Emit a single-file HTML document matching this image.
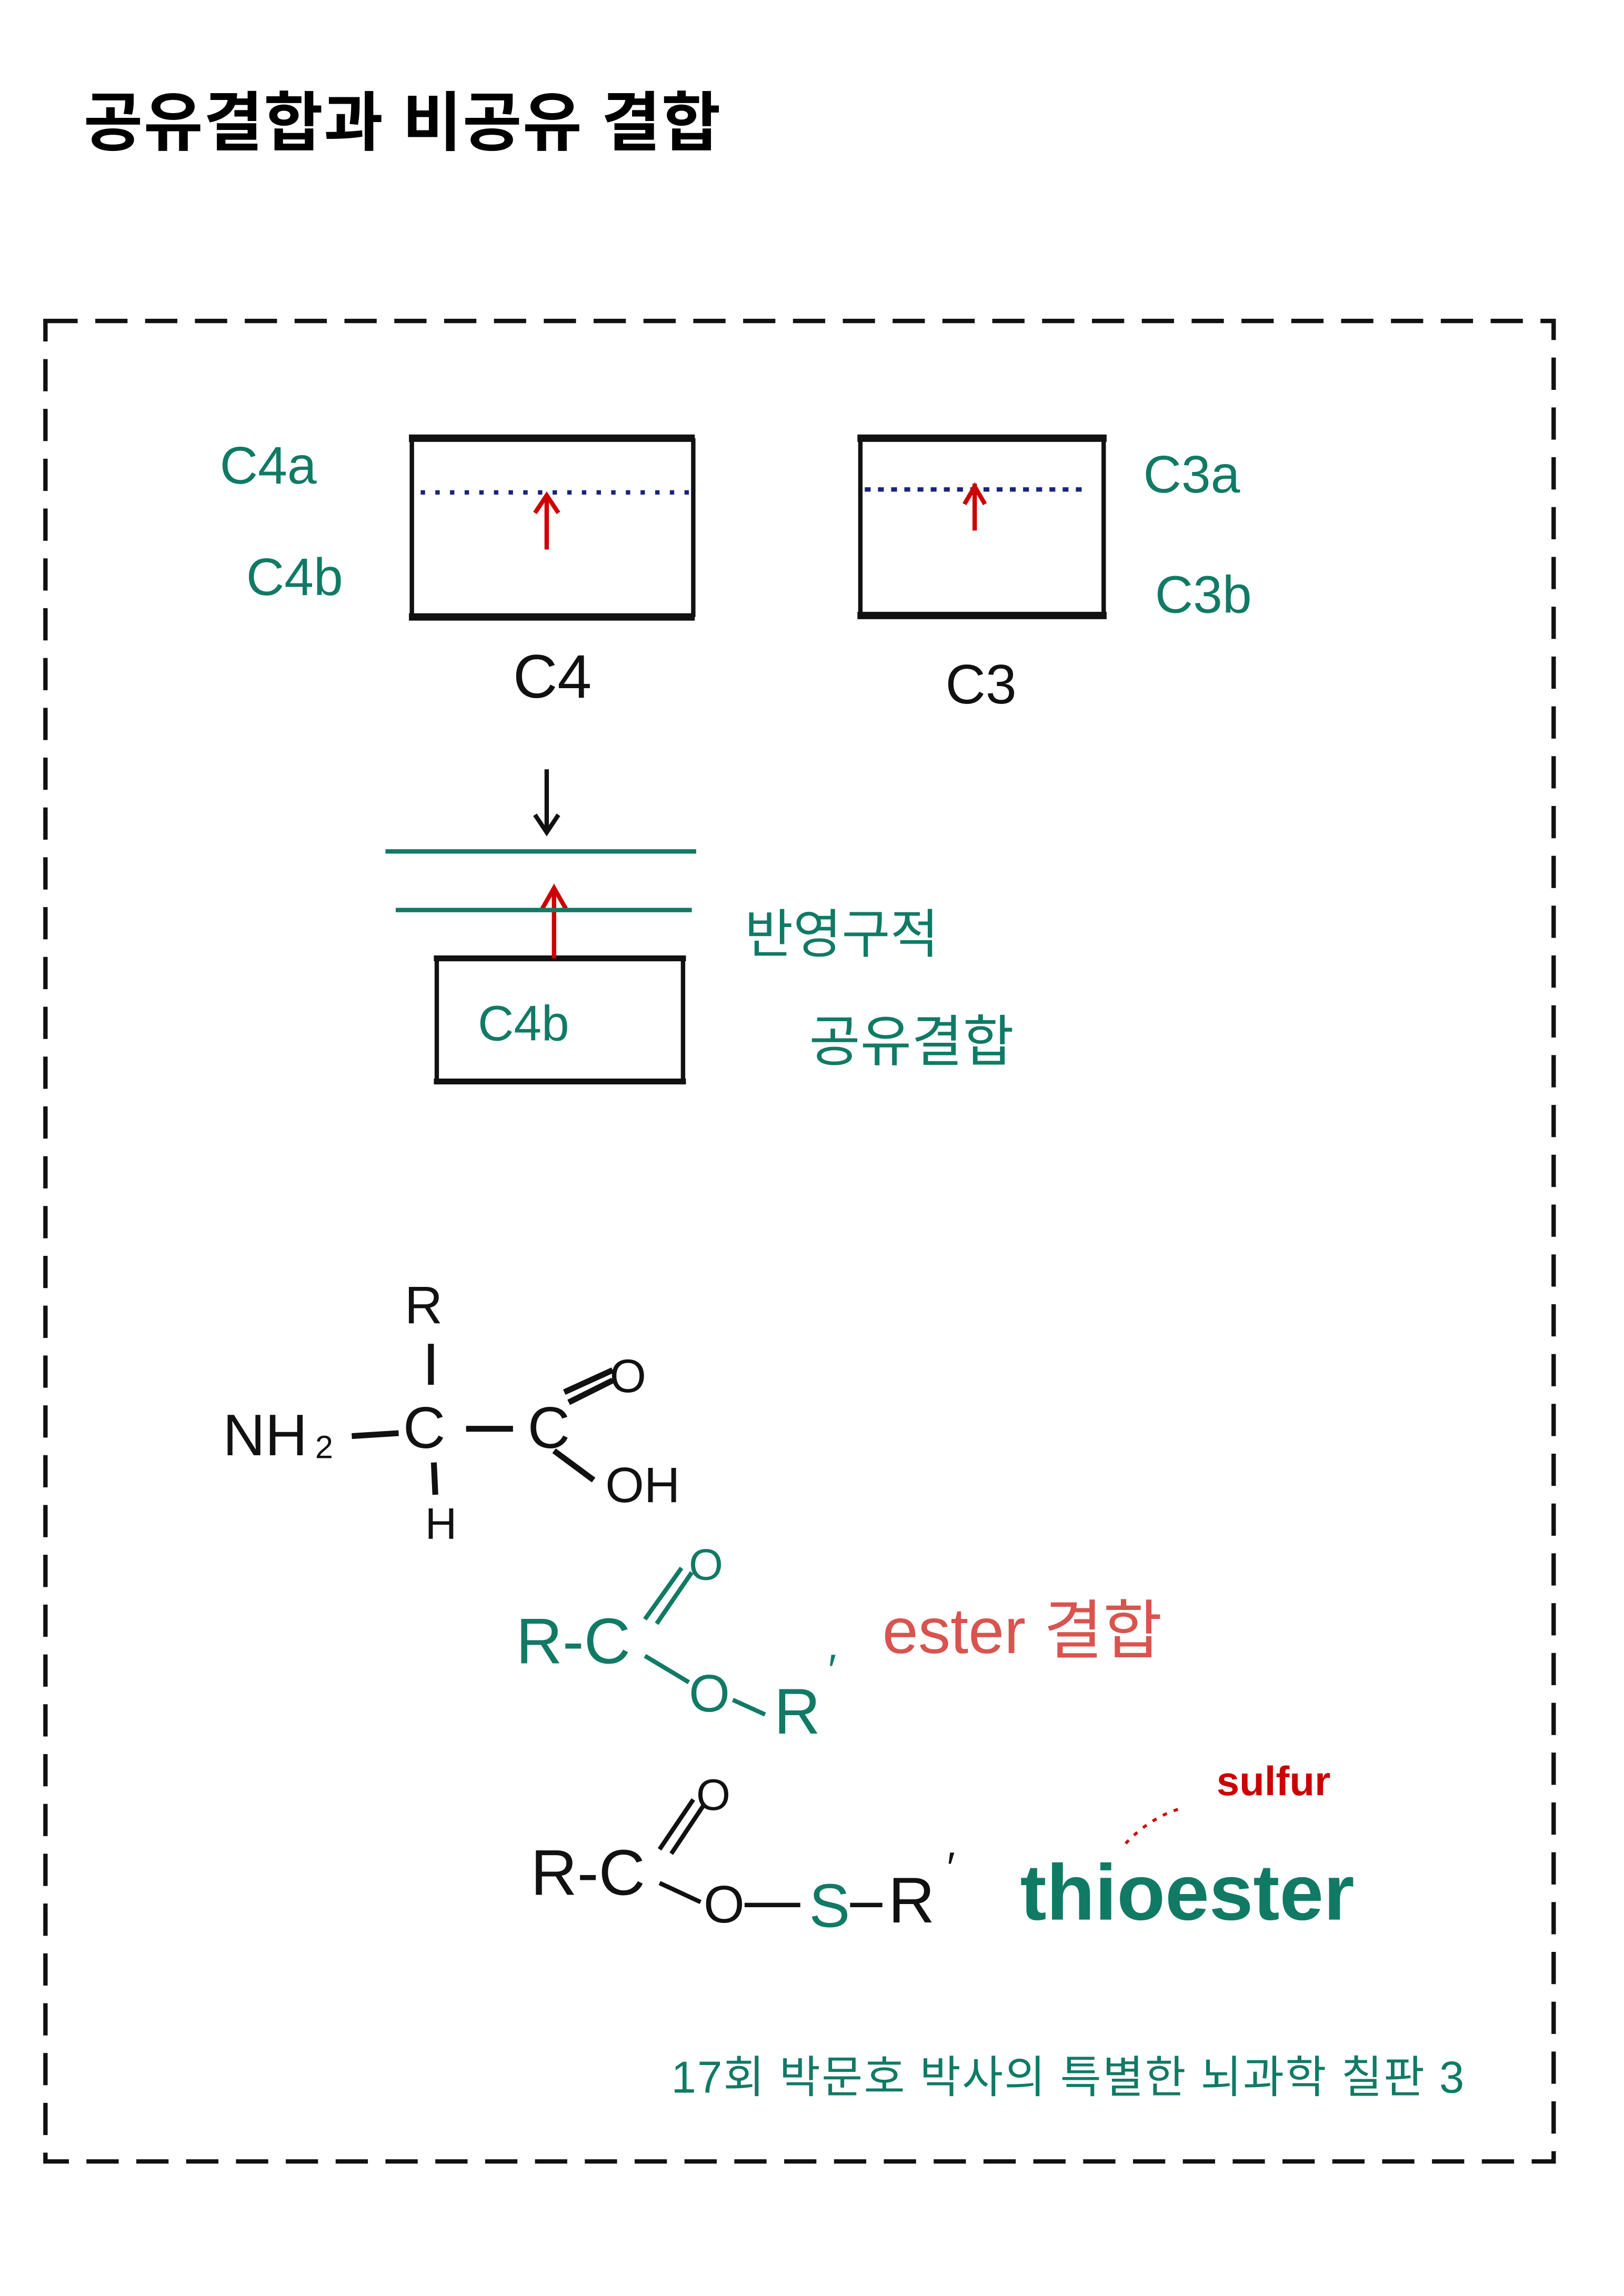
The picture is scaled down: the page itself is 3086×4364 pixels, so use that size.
<!DOCTYPE html>
<html><head><meta charset="utf-8"><style>
html,body{margin:0;padding:0;background:#fff;}
svg{display:block;}
text{font-family:"Liberation Sans","Noto Sans CJK KR",sans-serif;}
</style></head><body>
<svg width="3086" height="4364" viewBox="0 0 1108 1566.8" xmlns="http://www.w3.org/2000/svg">
<rect width="1110" height="1570" fill="#fff"/>
<text x="57" y="99" font-size="44" font-weight="bold" fill="#000" letter-spacing="0.5">공유결합과 비공유 결합</text>
<rect x="31" y="219" width="1029" height="1256" fill="none" stroke="#111" stroke-width="3" stroke-dasharray="22,12"/>
<g stroke="#111" fill="none">
<line x1="281" y1="299" x2="281" y2="421" stroke-width="3"/>
<line x1="473" y1="299" x2="473" y2="421" stroke-width="3"/>
<line x1="279" y1="299" x2="474" y2="299" stroke-width="5"/>
<line x1="279" y1="421" x2="474" y2="421" stroke-width="5"/>
<line x1="587" y1="299" x2="587" y2="420" stroke-width="3"/>
<line x1="753" y1="299" x2="753" y2="420" stroke-width="3"/>
<line x1="585" y1="299" x2="755" y2="299" stroke-width="5"/>
<line x1="585" y1="420" x2="755" y2="420" stroke-width="5"/>
<line x1="298" y1="654" x2="298" y2="738" stroke-width="3"/>
<line x1="466" y1="654" x2="466" y2="738" stroke-width="3"/>
<line x1="296" y1="654" x2="468" y2="654" stroke-width="4"/>
<line x1="296" y1="738" x2="468" y2="738" stroke-width="4"/>
</g>
<line x1="287" y1="336" x2="470" y2="336" stroke="#1a237e" stroke-width="3" stroke-dasharray="3,7"/>
<line x1="590" y1="334" x2="742" y2="334" stroke="#1a237e" stroke-width="3" stroke-dasharray="4,5"/>
<g stroke="#c00" stroke-width="3" fill="none">
<line x1="373" y1="375" x2="373" y2="339"/><polyline points="365,350 373,338 381,350"/>
<line x1="665" y1="362" x2="665" y2="330"/><polyline points="658,344 665,332 672,344"/>
<line x1="378" y1="654" x2="378" y2="608"/><polyline points="370,620 378,606 386,620"/>
</g>
<g fill="#117a65" font-size="36">
<text x="150" y="330">C4a</text>
<text x="168" y="406">C4b</text>
<text x="780" y="336">C3a</text>
<text x="788" y="418">C3b</text>
<text x="326" y="710" font-size="34">C4b</text>
<text x="508" y="650" font-size="36">반영구적</text>
<text x="552" y="724" font-size="38">공유결합</text>
</g>
<text x="350" y="476" font-size="42" fill="#111">C4</text>
<text x="645" y="480" font-size="38" fill="#111">C3</text>
<g stroke="#111" stroke-width="3" fill="none">
<line x1="373" y1="525" x2="373" y2="566"/><polyline points="365,556 373,568 381,556"/>
</g>
<g stroke="#117a65" stroke-width="3">
<line x1="263" y1="581" x2="475" y2="581"/>
<line x1="270" y1="621" x2="472" y2="621"/>
</g>
<g fill="#111" font-size="40">
<text x="152" y="993">NH</text><text x="215" y="995" font-size="22">2</text>
<text x="276" y="903" font-size="36">R</text>
<text x="275" y="988">C</text>
<text x="360" y="988">C</text>
<text x="416" y="950" font-size="32">O</text>
<text x="413" y="1025" font-size="34">OH</text>
<text x="290" y="1050" font-size="30">H</text>
</g>
<g stroke="#111" stroke-width="4">
<line x1="240" y1="980" x2="272" y2="978"/>
<line x1="318" y1="975" x2="350" y2="975"/>
<line x1="294" y1="917" x2="294" y2="945"/>
<line x1="296" y1="998" x2="297" y2="1020"/>
<line x1="385" y1="950" x2="418" y2="935"/>
<line x1="388" y1="957" x2="418" y2="942"/>
<line x1="378" y1="990" x2="405" y2="1010"/>
</g>
<g fill="#117a65" font-size="44">
<text x="352" y="1135">R-C</text>
<text x="470" y="1168" font-size="36">O</text>
<text x="528" y="1183">R</text>
<text x="565" y="1150" font-size="30">′</text>
<text x="470" y="1078" font-size="30">O</text>
</g>
<g stroke="#117a65" stroke-width="3">
<line x1="440" y1="1105" x2="465" y2="1070"/><line x1="448" y1="1108" x2="472" y2="1073"/>
<line x1="440" y1="1130" x2="470" y2="1148"/>
<line x1="500" y1="1160" x2="522" y2="1170"/>
</g>
<text x="602" y="1128" font-size="44" fill="#d9534f">ester 결합</text>
<g fill="#111" font-size="44">
<text x="362" y="1293">R-C</text>
<text x="480" y="1312" font-size="36">O</text>
<text x="606" y="1312">R</text>
<text x="646" y="1285" font-size="30">′</text>
<text x="475" y="1235" font-size="30">O</text>
</g>
<text x="552" y="1315" font-size="42" fill="#117a65">S</text>
<g stroke="#111" stroke-width="3">
<line x1="450" y1="1262" x2="473" y2="1228"/><line x1="458" y1="1265" x2="480" y2="1232"/>
<line x1="450" y1="1285" x2="478" y2="1298"/>
<line x1="508" y1="1300" x2="546" y2="1300"/>
<line x1="580" y1="1300" x2="602" y2="1300"/>
</g>
<text x="696" y="1310" font-size="54" fill="#117a65" font-weight="bold">thioester</text>
<text x="830" y="1225" font-size="28" fill="#c00" font-weight="bold">sulfur</text>
<path d="M768 1258 Q785 1240 806 1234" stroke="#c00" stroke-width="2" fill="none" stroke-dasharray="3,5"/>
<text x="458" y="1428" font-size="30.5" fill="#117a65" letter-spacing="0.8">17회 박문호 박사의 특별한 뇌과학 칠판 3</text>
</svg>
</body></html>
